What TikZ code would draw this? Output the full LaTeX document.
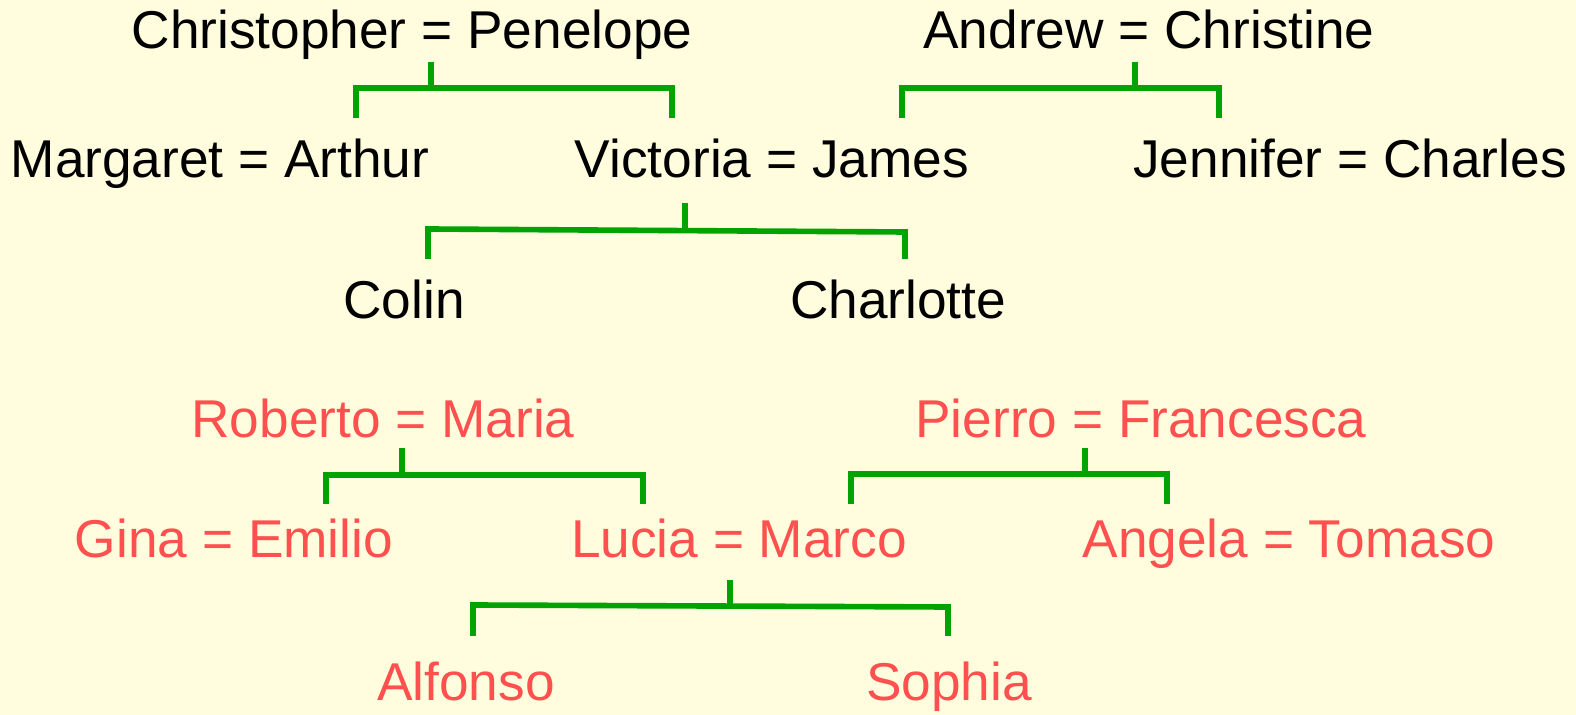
\documentclass[tikz,border=0pt]{standalone}
\usepackage{fontspec}
\setmainfont{Liberation Sans}
\usetikzlibrary{positioning}

\definecolor{paper}{HTML}{FFFDDD}
\definecolor{bracket}{HTML}{00A300}
\definecolor{italian}{HTML}{FF5050}

\tikzset{
	person/.style={anchor=base, inner sep=0pt, font=\fontsize{30.3}{36}\selectfont},
	english/.style={person, text=black},
	italy/.style={person, text=italian},
	family/.style={draw=bracket, line width=3.2pt}
}

\begin{document}
\begin{tikzpicture}[x=0.02cm, y=-0.02cm]
	\fill [paper] (0, 0) rectangle (1576, 715);
	\useasboundingbox (0, 0) rectangle (1576, 715);

	% english family
	\node [english] (chris) at (412, 49) {Christopher = Penelope};
	\node [english] (andrew) at (1149, 49) {Andrew = Christine};
	\node [english] (margaret) at (220, 178) {Margaret = Arthur};
	\node [english] (victoria) at (772, 178) {Victoria = James};
	\node [english] (jennifer) at (1350, 178) {Jennifer = Charles};
	\node [english] (colin) at (404, 319) {Colin};
	\node [english] (charlotte) at (898, 319) {Charlotte};

	% italian family
	\node [italy] (roberto) at (383, 438) {Roberto = Maria};
	\node [italy] (pierro) at (1141, 438) {Pierro = Francesca};
	\node [italy] (gina) at (234, 558) {Gina = Emilio};
	\node [italy] (lucia) at (739, 558) {Lucia = Marco};
	\node [italy] (angela) at (1289, 558) {Angela = Tomaso};
	\node [italy] (alfonso) at (466, 701) {Alfonso};
	\node [italy] (sophia) at (949, 701) {Sophia};

	\coordinate (chrisT) at (431, 62);
	\coordinate (chrisL) at (356, 118);
	\coordinate (chrisR) at (672, 118);
	\coordinate (andrewT) at (1135, 62);
	\coordinate (andrewL) at (902, 118);
	\coordinate (andrewR) at (1219, 118);
	\coordinate (victoriaT) at (685, 203);
	\coordinate (victoriaL) at (428, 259);
	\coordinate (victoriaR) at (905, 259);
	\coordinate (robertoT) at (402, 448);
	\coordinate (robertoL) at (326, 504);
	\coordinate (robertoR) at (643, 504);
	\coordinate (pierroT) at (1085, 448);
	\coordinate (pierroL) at (851, 504);
	\coordinate (pierroR) at (1167, 504);
	\coordinate (luciaT) at (730, 580);
	\coordinate (luciaL) at (473, 636);
	\coordinate (luciaR) at (948, 636);

	\draw [family] (chrisT) -- (chrisT |- 0, 88);
	\draw [family] (chrisL) -- (chrisL |- 0, 88) -- (chrisR |- 0, 88) -- (chrisR);
	\draw [family] (andrewT) -- (andrewT |- 0, 88);
	\draw [family] (andrewL) -- (andrewL |- 0, 88) -- (andrewR |- 0, 88) -- (andrewR);
	\draw [family] (victoriaT) -- (victoriaT |- 0, 230);
	\draw [family] (victoriaL) -- (victoriaL |- 0, 229) -- (victoriaR |- 0, 232) -- (victoriaR);
	\draw [family] (robertoT) -- (robertoT |- 0, 475);
	\draw [family] (robertoL) -- (robertoL |- 0, 475) -- (robertoR |- 0, 475) -- (robertoR);
	\draw [family] (pierroT) -- (pierroT |- 0, 474);
	\draw [family] (pierroL) -- (pierroL |- 0, 474) -- (pierroR |- 0, 474) -- (pierroR);
	\draw [family] (luciaT) -- (luciaT |- 0, 605);
	\draw [family] (luciaL) -- (luciaL |- 0, 605) -- (luciaR |- 0, 607) -- (luciaR);
\end{tikzpicture}
\end{document}
